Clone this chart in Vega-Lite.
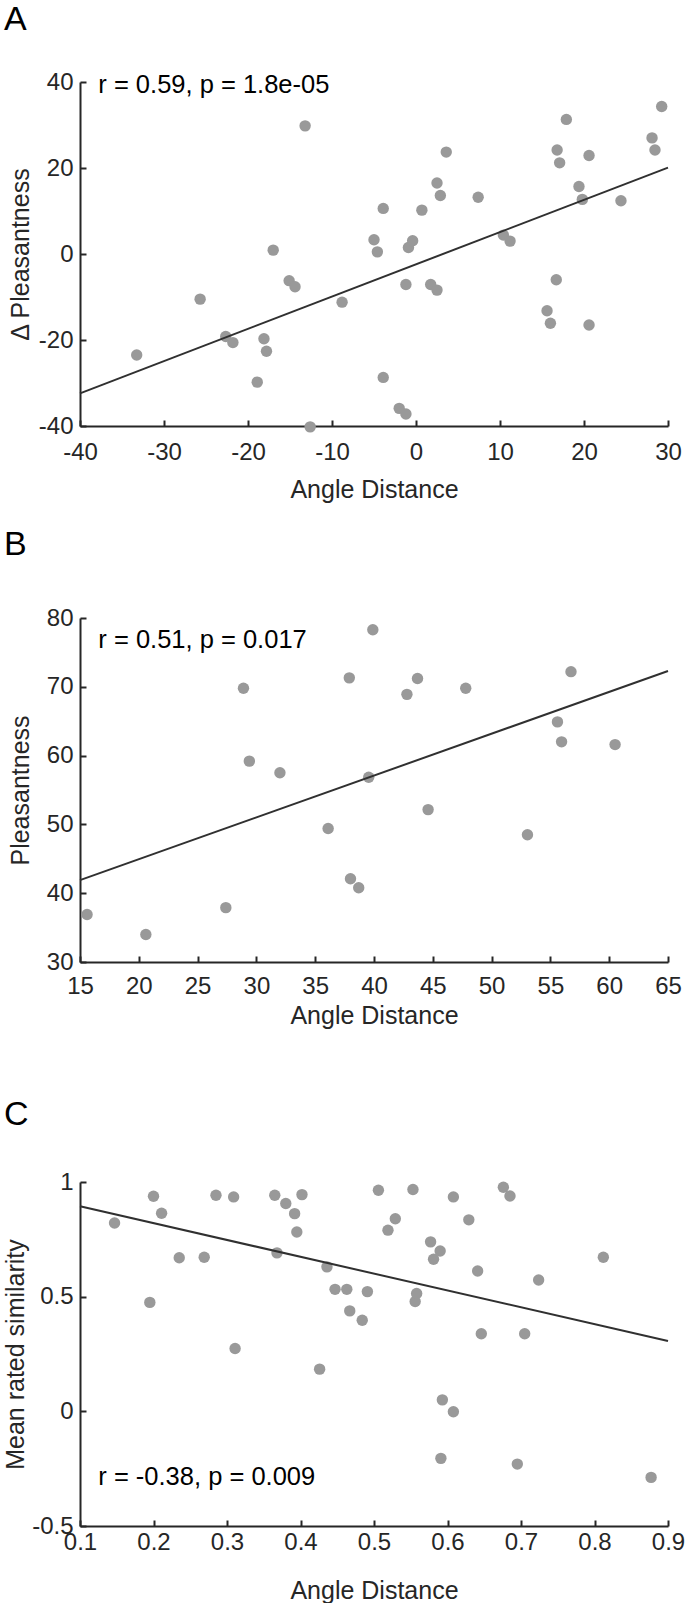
{
  "$schema": "https://vega.github.io/schema/vega-lite/v6.json",
  "padding": {"left": 3, "top": 3, "right": 0, "bottom": 0},
  "background": "white",
  "spacing": 25,
  "config": {
    "view": {"stroke": null},
    "font": "Liberation Sans",
    "axis": {
      "grid": false,
      "domainColor": "#262626",
      "domainWidth": 2,
      "tickColor": "#262626",
      "tickWidth": 2,
      "tickSize": -6,
      "labelColor": "#262626",
      "labelFont": "Liberation Sans",
      "labelFontSize": 24,
      "titleColor": "#262626",
      "titleFont": "Liberation Sans",
      "titleFontSize": 25,
      "titleFontWeight": "normal",
      "labelExpr": "'' + datum.value",
      "labelOverlap": false,
      "labelFlush": false
    },
    "axisY": {"labelPadding": 13},
    "title": {"font": "Liberation Sans", "fontSize": 34, "fontWeight": "normal", "color": "#000000", "anchor": "start", "frame": "group", "dx": -76}
  },
  "vconcat": [
    {
      "width": 588,
      "height": 344,
      "title": {"text": "A", "offset": 33},
      "encoding": {
        "x": {"field": "x", "type": "quantitative", "title": "Angle Distance",
          "scale": {"domain": [-40, 30], "nice": false, "zero": false},
          "axis": {"values": [-40, -30, -20, -10, 0, 10, 20, 30], "labelPadding": 20, "titlePadding": 13.5}},
        "y": {"field": "y", "type": "quantitative", "title": "Δ Pleasantness",
          "scale": {"domain": [-40, 40], "nice": false, "zero": false},
          "axis": {"values": [-40, -20, 0, 20, 40], "titlePadding": 4.8}}
      },
      "layer": [
        {
          "data": {"values": [
            {"x": -33.25, "y": -23.5}, {"x": -25.7, "y": -10.5}, {"x": -22.65, "y": -19.2},
            {"x": -21.8, "y": -20.6}, {"x": -18.9, "y": -29.8}, {"x": -18.1, "y": -19.7},
            {"x": -17.8, "y": -22.6}, {"x": -17.0, "y": 0.9}, {"x": -15.1, "y": -6.2},
            {"x": -14.4, "y": -7.6}, {"x": -13.2, "y": 29.8}, {"x": -12.6, "y": -40.2},
            {"x": -8.8, "y": -11.2}, {"x": -5.0, "y": 3.3}, {"x": -4.6, "y": 0.5},
            {"x": -3.9, "y": 10.6}, {"x": -3.9, "y": -28.7}, {"x": -2.0, "y": -35.9},
            {"x": -1.2, "y": -37.2}, {"x": -1.2, "y": -7.1}, {"x": -0.9, "y": 1.5},
            {"x": -0.4, "y": 3.1}, {"x": 0.7, "y": 10.2}, {"x": 1.75, "y": -7.1},
            {"x": 2.5, "y": -8.4}, {"x": 2.5, "y": 16.5}, {"x": 2.9, "y": 13.6},
            {"x": 3.6, "y": 23.7}, {"x": 7.4, "y": 13.2}, {"x": 10.4, "y": 4.4},
            {"x": 11.2, "y": 3.0}, {"x": 15.6, "y": -13.2}, {"x": 16.0, "y": -16.1},
            {"x": 16.7, "y": -6.0}, {"x": 16.8, "y": 24.2}, {"x": 17.1, "y": 21.2},
            {"x": 17.9, "y": 31.3}, {"x": 19.4, "y": 15.7}, {"x": 19.8, "y": 12.7},
            {"x": 20.6, "y": 22.9}, {"x": 20.6, "y": -16.5}, {"x": 24.4, "y": 12.4},
            {"x": 28.1, "y": 27.0}, {"x": 28.45, "y": 24.2}, {"x": 29.25, "y": 34.3}
          ]},
          "mark": {"type": "circle", "size": 130, "color": "#999999", "opacity": 1}
        },
        {
          "data": {"values": [{"x": -40, "y": -32.4}, {"x": 30, "y": 20.1}]},
          "mark": {"type": "line", "color": "#303030", "strokeWidth": 2}
        },
        {
          "data": {"values": [{"x": -37.82, "y": 37.44, "label": "r = 0.59, p = 1.8e-05"}]},
          "mark": {"type": "text", "align": "left", "baseline": "alphabetic", "fontSize": 25.5, "font": "Liberation Sans", "color": "#000000"},
          "encoding": {"text": {"field": "label"}}
        }
      ]
    },
    {
      "width": 588,
      "height": 344,
      "title": {"text": "B", "offset": 44},
      "encoding": {
        "x": {"field": "x", "type": "quantitative",
          "scale": {"domain": [15, 65], "nice": false, "zero": false},
          "axis": {"title": ["Angle Distance", ""], "titleLineHeight": 44, "values": [15, 20, 25, 30, 35, 40, 45, 50, 55, 60, 65], "labelPadding": 18.3, "titlePadding": 5}},
        "y": {"field": "y", "type": "quantitative", "title": "Pleasantness",
          "scale": {"domain": [30, 80], "nice": false, "zero": false},
          "axis": {"values": [30, 40, 50, 60, 70, 80], "titlePadding": 12.8}}
      },
      "layer": [
        {
          "data": {"values": [
            {"x": 15.6, "y": 36.9}, {"x": 20.6, "y": 34.0}, {"x": 27.4, "y": 37.9},
            {"x": 28.9, "y": 69.8}, {"x": 29.4, "y": 59.2}, {"x": 32.0, "y": 57.5},
            {"x": 36.1, "y": 49.4}, {"x": 37.9, "y": 71.3}, {"x": 38.0, "y": 42.1},
            {"x": 38.7, "y": 40.8}, {"x": 39.55, "y": 56.85}, {"x": 39.9, "y": 78.3},
            {"x": 42.8, "y": 68.9}, {"x": 43.7, "y": 71.2}, {"x": 44.6, "y": 52.15},
            {"x": 47.8, "y": 69.8}, {"x": 53.05, "y": 48.5}, {"x": 55.6, "y": 64.9},
            {"x": 55.95, "y": 62.0}, {"x": 56.75, "y": 72.2}, {"x": 60.5, "y": 61.6}
          ]},
          "mark": {"type": "circle", "size": 130, "color": "#999999", "opacity": 1}
        },
        {
          "data": {"values": [{"x": 15, "y": 41.9}, {"x": 65, "y": 72.3}]},
          "mark": {"type": "line", "color": "#303030", "strokeWidth": 2}
        },
        {
          "data": {"values": [{"x": 16.56, "y": 75.64, "label": "r = 0.51, p = 0.017"}]},
          "mark": {"type": "text", "align": "left", "baseline": "alphabetic", "fontSize": 25.5, "font": "Liberation Sans", "color": "#000000"},
          "encoding": {"text": {"field": "label"}}
        }
      ]
    },
    {
      "width": 588,
      "height": 344,
      "title": {"text": "C", "offset": 37.7},
      "encoding": {
        "x": {"field": "x", "type": "quantitative", "title": "Angle Distance",
          "scale": {"domain": [0.1, 0.9], "nice": false, "zero": false},
          "axis": {"values": [0.1, 0.2, 0.3, 0.4, 0.5, 0.6, 0.7, 0.8, 0.9], "labelPadding": 10, "titlePadding": 24}},
        "y": {"field": "y", "type": "quantitative", "title": "Mean rated similarity",
          "scale": {"domain": [-0.5, 1], "nice": false, "zero": false},
          "axis": {"values": [-0.5, 0, 0.5, 1], "titlePadding": 3}}
      },
      "layer": [
        {
          "data": {"values": [
            {"x": 0.147, "y": 0.821}, {"x": 0.195, "y": 0.475}, {"x": 0.200, "y": 0.938},
            {"x": 0.211, "y": 0.864}, {"x": 0.235, "y": 0.670}, {"x": 0.269, "y": 0.672},
            {"x": 0.285, "y": 0.942}, {"x": 0.309, "y": 0.935}, {"x": 0.311, "y": 0.274},
            {"x": 0.365, "y": 0.942}, {"x": 0.368, "y": 0.691}, {"x": 0.380, "y": 0.906},
            {"x": 0.392, "y": 0.862}, {"x": 0.395, "y": 0.782}, {"x": 0.402, "y": 0.945},
            {"x": 0.426, "y": 0.184}, {"x": 0.436, "y": 0.630}, {"x": 0.447, "y": 0.532},
            {"x": 0.463, "y": 0.532}, {"x": 0.467, "y": 0.438}, {"x": 0.484, "y": 0.397},
            {"x": 0.491, "y": 0.522}, {"x": 0.506, "y": 0.964}, {"x": 0.519, "y": 0.790},
            {"x": 0.529, "y": 0.840}, {"x": 0.553, "y": 0.967}, {"x": 0.556, "y": 0.479},
            {"x": 0.558, "y": 0.514}, {"x": 0.577, "y": 0.739}, {"x": 0.581, "y": 0.663},
            {"x": 0.590, "y": 0.699}, {"x": 0.591, "y": -0.205}, {"x": 0.593, "y": 0.050},
            {"x": 0.608, "y": 0.935}, {"x": 0.608, "y": -0.002}, {"x": 0.629, "y": 0.835},
            {"x": 0.641, "y": 0.612}, {"x": 0.646, "y": 0.338}, {"x": 0.676, "y": 0.977},
            {"x": 0.685, "y": 0.939}, {"x": 0.695, "y": -0.230}, {"x": 0.705, "y": 0.338},
            {"x": 0.724, "y": 0.573}, {"x": 0.812, "y": 0.672}, {"x": 0.877, "y": -0.288}
          ]},
          "mark": {"type": "circle", "size": 130, "color": "#999999", "opacity": 1}
        },
        {
          "data": {"values": [{"x": 0.1, "y": 0.894}, {"x": 0.9, "y": 0.307}]},
          "mark": {"type": "line", "color": "#303030", "strokeWidth": 2}
        },
        {
          "data": {"values": [{"x": 0.1249, "y": -0.3216, "label": "r = -0.38, p = 0.009"}]},
          "mark": {"type": "text", "align": "left", "baseline": "alphabetic", "fontSize": 25.5, "font": "Liberation Sans", "color": "#000000"},
          "encoding": {"text": {"field": "label"}}
        }
      ]
    }
  ]
}
